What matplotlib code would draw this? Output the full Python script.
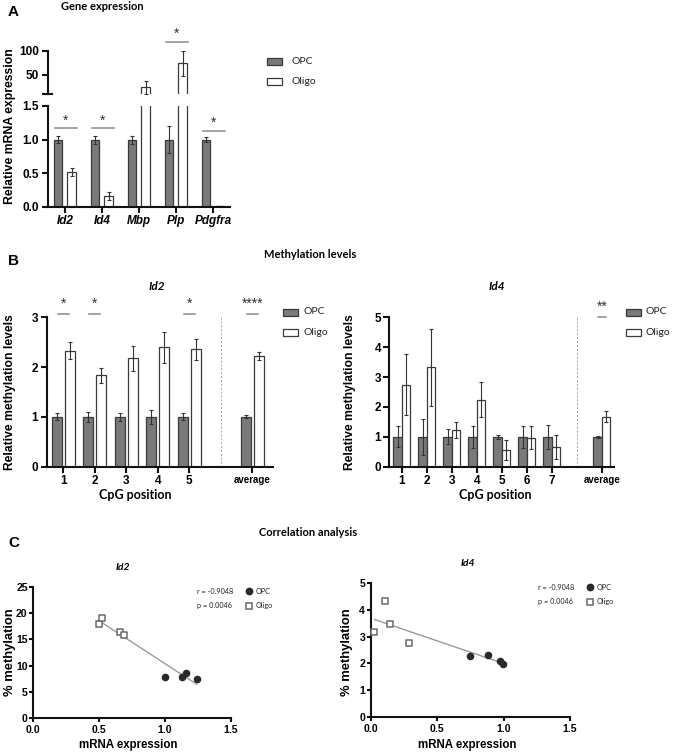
import numpy as np
import matplotlib.pyplot as plt
from matplotlib.patches import Rectangle
from matplotlib.lines import Line2D

# ---- data ----
genes = ["Id2", "Id4", "Mbp", "Plp", "Pdgfra"]
expr_opc = [1.0, 1.0, 1.0, 1.0, 1.0]
expr_opc_err = [0.05, 0.06, 0.06, 0.2, 0.04]
expr_oligo = [0.51, 0.16, 24, 74, 0.01]
expr_oligo_err = [0.06, 0.06, 13, 26, 0.004]
sigA_idx = [0, 1, 3, 4]
sigA_y = [1.17, 1.17, 119, 1.13]

id2_pos = [1, 2, 3, 4, 5, 7]
id2_labels = ["1", "2", "3", "4", "5", "average"]
id2_opc = [1.0, 1.0, 1.0, 1.0, 1.0, 1.0]
id2_opc_err = [0.07, 0.1, 0.08, 0.15, 0.07, 0.03]
id2_oligo = [2.33, 1.84, 2.18, 2.40, 2.36, 2.22]
id2_oligo_err = [0.17, 0.15, 0.25, 0.31, 0.21, 0.08]
id2_sig_pos = [1, 2, 5, 7]
id2_sig_txt = ["*", "*", "*", "****"]
id2_sig_y = 3.07

id4_pos = [1, 2, 3, 4, 5, 6, 7, 9]
id4_labels = ["1", "2", "3", "4", "5", "6", "7", "average"]
id4_opc = [1.0, 1.0, 1.0, 1.0, 1.0, 1.0, 1.0, 1.0]
id4_opc_err = [0.35, 0.6, 0.25, 0.37, 0.08, 0.38, 0.4, 0.03]
id4_oligo = [2.75, 3.33, 1.24, 2.25, 0.57, 0.97, 0.65, 1.68]
id4_oligo_err = [1.02, 1.28, 0.26, 0.57, 0.33, 0.38, 0.4, 0.17]
id4_sig_pos = [9]
id4_sig_txt = ["**"]
id4_sig_y = 5.0

c1_opc_x = [1.0, 1.13, 1.16, 1.24]
c1_opc_y = [7.9, 7.8, 8.6, 7.5]
c1_oligo_x = [0.50, 0.52, 0.655, 0.685]
c1_oligo_y = [17.85, 19.1, 16.5, 15.8]
c2_opc_x = [0.75, 0.885, 0.97, 0.998]
c2_opc_y = [2.28, 2.30, 2.10, 1.99]
c2_oligo_x = [0.028, 0.108, 0.148, 0.286]
c2_oligo_y = [3.16, 4.35, 3.49, 2.78]
r_text = "r = -0.9048"
p_text = "p = 0.0046"

# ---- style ----
W, H = 674, 752
ARIAL = ["Liberation Sans", "DejaVu Sans"]
CAL = ["Lato", "DejaVu Sans"]
plt.rcParams["font.family"] = ARIAL
GRAY = "#7a7a7a"
EDGE = "#3a3a3a"
SIGC = "#8a8a8a"

fig = plt.figure(figsize=(W / 100, H / 100), dpi=100)


def rect(l, t, r, b):
    return [l / W, 1 - b / H, (r - l) / W, (b - t) / H]


def style(ax, fs=8, length=4):
    for s in ("top", "right"):
        ax.spines[s].set_visible(False)
    for s in ("left", "bottom"):
        ax.spines[s].set_linewidth(1.5)
        ax.spines[s].set_color("#111111")
    ax.tick_params(width=1.5, length=length, labelsize=fs, color="#111111", pad=2)
    for lbl in ax.get_xticklabels() + ax.get_yticklabels():
        lbl.set_fontweight("bold")


def ftext(x, y, s, **kw):
    fig.text(x / W, 1 - y / H, s, **kw)


def ylab(ax, text, fs, right_x, cy):
    # label text sits to the left of right_x, centred on cy (pixels)
    ax.set_ylabel(text, fontsize=fs, fontweight="bold")
    ax.yaxis.set_label_coords(right_x / W, 1 - cy / H, transform=fig.transFigure)


def legend_box(x, y, face, label, gap=25):
    fig.add_artist(Rectangle((x / W, 1 - (y + 3.5) / H), 15 / W, 7 / H,
                             transform=fig.transFigure, facecolor=face,
                             edgecolor=EDGE, lw=0.9))
    ftext(x + gap, y, label, family=CAL, fontsize=7.5, va="center", color="#222222")


def sig(ax, xc, y, txt, half, fs=10, off=5.5):
    ax.plot([xc - half, xc + half], [y, y], color=SIGC, lw=1.1, clip_on=False)
    ax.annotate(txt, xy=(xc, y), xytext=(0, off), textcoords="offset points",
                ha="center", va="center", fontsize=fs, color="#333333",
                annotation_clip=False)


ekw = dict(elinewidth=0.8, ecolor="#333333", capthick=0.8)

# ---- panel A ----
axA_lo = fig.add_axes(rect(47.5, 106, 230, 206.7))
axA_hi = fig.add_axes(rect(47.5, 50.7, 230, 94))
xa = np.arange(len(genes))
for ax in (axA_lo, axA_hi):
    ax.bar(xa - 0.19, expr_opc, 0.235, yerr=expr_opc_err, color=GRAY,
           edgecolor=EDGE, lw=0.9, capsize=1.5, error_kw=ekw)
    ax.bar(xa + 0.18, expr_oligo, 0.235, yerr=expr_oligo_err, color="white",
           edgecolor=EDGE, lw=0.9, capsize=1.5, error_kw=ekw)
    ax.set_xlim(-0.47, 4.46)
axA_lo.set_ylim(0, 1.5)
axA_lo.set_yticks([0, 0.5, 1.0, 1.5])
axA_lo.set_xticks(xa)
axA_lo.set_xticklabels(genes, fontstyle="italic")
style(axA_lo, 8.5)
axA_hi.set_ylim(10, 100)
axA_hi.set_yticks([10, 50, 100])
axA_hi.set_yticklabels(["", "50", "100"])
axA_hi.set_xticks([])
style(axA_hi, 8.5)
axA_hi.spines["bottom"].set_visible(False)
axA_hi.plot([-0.47], [10], marker="_", ms=7, mew=1.5, color="#111111", clip_on=False)
for i, y in zip(sigA_idx, sigA_y):
    ax = axA_hi if y > 1.5 else axA_lo
    sig(ax, i + 0.02, y, "*", 0.3)
ylab(axA_lo, "Relative mRNA expression", 8.8, 16, 126)
ftext(8, 12, "A", fontsize=11, fontweight="bold", va="center")
ftext(61, 7, "Gene expression", family=CAL, fontsize=8, fontweight="bold", va="center")
legend_box(267, 61, GRAY, "OPC")
legend_box(267, 81, "white", "Oligo")

# ---- panel B ----
ftext(8, 261, "B", fontsize=11, fontweight="bold", va="center")
ftext(310, 254, "Methylation levels", family=CAL, fontsize=8, fontweight="bold",
      va="center", ha="center")


def meth_panel(box, pos, labels, opc, opc_err, oli, oli_err, ymax, xlim, off, w,
               sig_pos, sig_txt, sig_y, title, title_x, ylab_x, xlab_x):
    ax = fig.add_axes(rect(*box))
    p = np.array(pos, dtype=float)
    ax.bar(p - off, opc, w, yerr=opc_err, color=GRAY, edgecolor=EDGE, lw=0.9,
           capsize=1.5, error_kw=ekw)
    ax.bar(p + off, oli, w, yerr=oli_err, color="white", edgecolor=EDGE, lw=0.9,
           capsize=1.5, error_kw=ekw)
    ax.axvline((pos[-2] + pos[-1]) / 2, color="#a0a0a0", lw=0.7, ls=(0, (2, 2)))
    ax.set_xlim(*xlim)
    ax.set_ylim(0, ymax)
    ax.set_yticks(range(0, ymax + 1))
    ax.set_xticks(pos)
    ax.set_xticklabels(labels)
    style(ax, 8.5)
    ax.get_xticklabels()[-1].set_fontsize(7)
    for xp, t in zip(sig_pos, sig_txt):
        sig(ax, xp, sig_y, t, 0.17, fs=10, off=7)
    ylab(ax, "Relative methylation levels", 8.7, ylab_x, 392)
    ftext(title_x, 287, title, family=CAL, fontsize=8.5, fontweight="bold",
          fontstyle="italic", ha="center", va="center")
    ftext(xlab_x, 495, "CpG position", family=CAL, fontsize=9, fontweight="bold",
          ha="center", va="center")
    return ax


axB1 = meth_panel((46.5, 317, 273, 467), id2_pos, id2_labels, id2_opc, id2_opc_err,
                  id2_oligo, id2_oligo_err, 3, (0.467, 7.66), 0.21, 0.32,
                  id2_sig_pos, id2_sig_txt, id2_sig_y, "Id2", 157, 16.5, 135)
axB2 = meth_panel((389.3, 317, 614, 467), id4_pos, id4_labels, id4_opc, id4_opc_err,
                  id4_oligo, id4_oligo_err, 5, (0.5, 9.49), 0.167, 0.33,
                  id4_sig_pos, id4_sig_txt, id4_sig_y, "Id4", 497, 356.5, 495)
legend_box(283, 312, GRAY, "OPC", gap=21)
legend_box(283, 332.5, "white", "Oligo", gap=21)
legend_box(626, 312, GRAY, "OPC", gap=19)
legend_box(626, 332.5, "white", "Oligo", gap=19)

# ---- panel C ----
ftext(8, 543, "C", fontsize=11, fontweight="bold", va="center")
ftext(308, 533, "Correlation analysis", family=CAL, fontsize=8, fontweight="bold",
      va="center", ha="center")


def corr_panel(box, ox, oy, gx, gy, ymax, ystep, title, title_xy, ann_x, ann_y,
               ylab_x, xlab_x):
    ax = fig.add_axes(rect(*box))
    allx = np.array(ox + gx)
    ally = np.array(oy + gy)
    k, b = np.polyfit(allx, ally, 1)
    xs = np.array([allx.min(), allx.max()])
    ax.plot(xs, k * xs + b, color="#9a9a9a", lw=1.0, zorder=1)
    ax.scatter(ox, oy, s=20, color="#2a2a2a", zorder=3, clip_on=False)
    ax.scatter(gx, gy, s=24, marker="s", facecolor="white", edgecolor="#6a6a6a",
               lw=1.1, zorder=3, clip_on=False)
    ax.set_xlim(0, 1.5)
    ax.set_ylim(0, ymax)
    ax.set_xticks([0, 0.5, 1.0, 1.5])
    ax.set_xticklabels(["0.0", "0.5", "1.0", "1.5"])
    ax.set_yticks(np.arange(0, ymax + ystep / 2, ystep))
    style(ax, 7.6, length=3)
    ax.tick_params(axis="y", pad=1)
    ylab(ax, "% methylation", 9.4, ylab_x, 652)
    ftext(xlab_x, 745, "mRNA expression", fontsize=8.3, fontweight="bold",
          ha="center", va="center")
    ftext(title_xy[0], title_xy[1], title, family=CAL, fontsize=7.5, fontweight="bold",
          fontstyle="italic", ha="center", va="center")
    ftext(ann_x, ann_y, r_text, family=CAL, fontsize=5.2, va="center", color="#222222")
    ftext(ann_x, ann_y + 14.5, p_text, family=CAL, fontsize=5.2, va="center",
          color="#222222")
    mx = ann_x + 52
    fig.add_artist(Line2D([mx / W], [1 - ann_y / H], marker="o", ms=4.6,
                          color="#2a2a2a", transform=fig.transFigure))
    fig.add_artist(Line2D([mx / W], [1 - (ann_y + 14.5) / H], marker="s", ms=5,
                          mfc="white", mec="#6a6a6a", mew=1.1,
                          transform=fig.transFigure))
    ftext(mx + 7, ann_y, "OPC", family=CAL, fontsize=5.2, va="center", color="#222222")
    ftext(mx + 7, ann_y + 14.5, "Oligo", family=CAL, fontsize=5.2, va="center",
          color="#222222")
    return ax


corr_panel((33.3, 587, 231, 718), c1_opc_x, c1_opc_y, c1_oligo_x, c1_oligo_y,
           25, 5, "Id2", (123, 567), 197, 591, 16, 128)
corr_panel((370.7, 583.3, 570, 716.7), c2_opc_x, c2_opc_y, c2_oligo_x, c2_oligo_y,
           5, 1, "Id4", (468, 563), 538, 587, 353, 467)

fig.savefig("out.png", dpi=100)
